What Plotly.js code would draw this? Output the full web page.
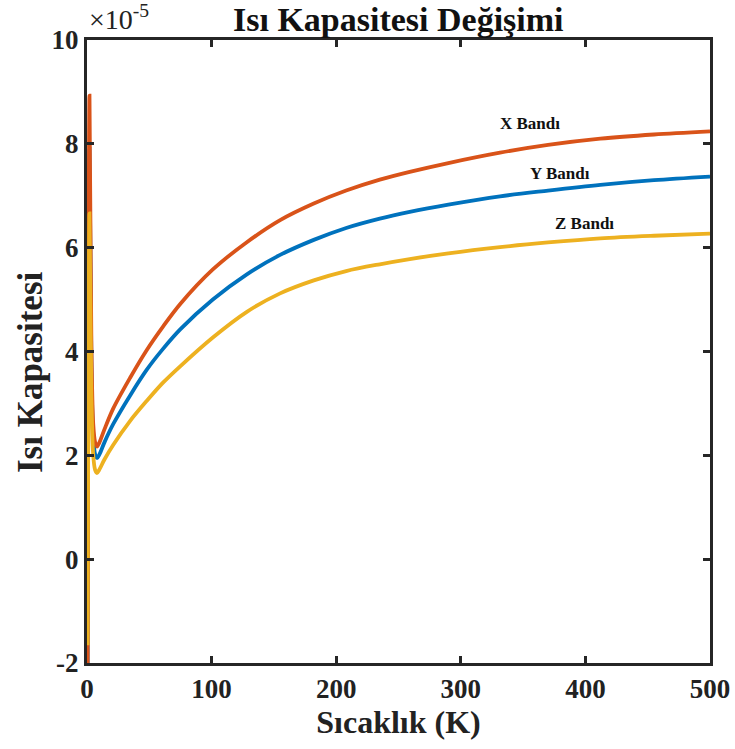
<!DOCTYPE html>
<html>
<head>
<meta charset="utf-8">
<script src="https://cdn.plot.ly/plotly-3.0.1.min.js"></script>
<style>html,body{margin:0;padding:0;background:#fff;}#chart{width:735px;height:749px;}</style>
</head>
<body>
<div id="chart"></div>
<script>
// Temperature (K)
var temperature = [0.5, 2, 3.5, 5, 6.5, 8, 10, 14, 21, 34.5, 48, 61, 75, 101, 128, 155, 182, 208, 235, 259, 290, 331.5, 370, 412, 455, 500];
// Heat capacity (x1e-5)
var xBand = [-2.6, 8.93, 4.2, 2.6, 2.25, 2.17, 2.25, 2.50, 2.90, 3.49, 4.03, 4.48, 4.92, 5.58, 6.10, 6.53, 6.85, 7.10, 7.31, 7.46, 7.63, 7.83, 7.98, 8.10, 8.18, 8.24];
var yBand = [-2.2, 7.9, 3.8, 2.35, 2.02, 1.95, 2.02, 2.25, 2.60, 3.15, 3.65, 4.05, 4.43, 5.00, 5.48, 5.86, 6.15, 6.38, 6.56, 6.69, 6.83, 6.99, 7.10, 7.21, 7.30, 7.37];
var zBand = [-1.66, 6.66, 3.2, 2.0, 1.72, 1.66, 1.73, 1.92, 2.20, 2.66, 3.05, 3.40, 3.72, 4.27, 4.76, 5.12, 5.37, 5.55, 5.68, 5.78, 5.89, 6.01, 6.10, 6.18, 6.23, 6.27];
var seriesNames = ["X Bandı", "Y Bandı", "Z Bandı"];
var labelT = [355.5, 379.5, 399.5];
var labelV = [8.39, 7.43, 6.47];
var xTicks = [0, 100, 200, 300, 400, 500];
var yTicks = [-2, 0, 2, 4, 6, 8, 10];

var colors = {x: "#D95319", y: "#0072BD", z: "#EDB120"};
var serif = "Liberation Serif, Times New Roman, serif";
var axisColor = "#262626";

var lineStyle = function (c) { return {color: c, width: 3.8, shape: "spline", smoothing: 0.9}; };
var traces = [
  {x: temperature, y: yBand, name: seriesNames[1], mode: "lines", line: lineStyle(colors.y)},
  {x: temperature, y: xBand, name: seriesNames[0], mode: "lines", line: lineStyle(colors.x)},
  {x: temperature, y: zBand, name: seriesNames[2], mode: "lines", line: lineStyle(colors.z)}
];

var annotations = seriesNames.map(function (n, i) {
  return {x: labelT[i], y: labelV[i], xref: "x", yref: "y", text: "<b>" + n + "</b>", showarrow: false,
    font: {family: serif, size: 17, color: "#111"}};
});
annotations.push({x: 0, y: 1, xref: "paper", yref: "paper", xanchor: "left", yanchor: "bottom", yshift: 3, xshift: 0,
  text: "×10<sup>-5</sup>", showarrow: false, font: {family: serif, size: 28, color: "#222"}});
// chart title
annotations.push({x: 0.5, y: 1.0329, xref: "paper", yref: "paper", xanchor: "center", yanchor: "middle",
  text: "<b>Isı Kapasitesi Değişimi</b>", showarrow: false, font: {family: serif, size: 34, color: "#111"}});
// y axis title
annotations.push({x: -0.0915, y: 0.467, xref: "paper", yref: "paper", xanchor: "center", yanchor: "middle",
  textangle: -90, text: "<b>Isı Kapasitesi</b>", showarrow: false, font: {family: serif, size: 35, color: "#222"}});

var layout = {
  width: 735, height: 749,
  margin: {l: 87, r: 25, t: 40, b: 86},
  paper_bgcolor: "#fff", plot_bgcolor: "#fff",
  showlegend: false,
  xaxis: {
    range: [0, 500], tickvals: xTicks, ticktext: xTicks.map(function (v) { return "<b>" + v + "</b>"; }),
    ticks: "inside", ticklen: 7, tickwidth: 3, tickcolor: axisColor,
    showline: true, linewidth: 3, linecolor: axisColor, mirror: "ticks",
    showgrid: false, zeroline: false,
    tickfont: {family: serif, size: 27, color: "#222"},
    title: {text: "<b>Sıcaklık (K)</b>", font: {family: serif, size: 32, color: "#222"}, standoff: 6}
  },
  yaxis: {
    range: [-2, 10], tickvals: yTicks, ticktext: yTicks.map(function (v) { return "<b>" + v + "</b>"; }),
    ticks: "inside", ticklen: 7, tickwidth: 3, tickcolor: axisColor,
    showline: true, linewidth: 3, linecolor: axisColor, mirror: "ticks",
    showgrid: false, zeroline: false,
    tickfont: {family: serif, size: 27, color: "#222"}
  },
  annotations: annotations
};

Plotly.newPlot("chart", traces, layout, {displayModeBar: false, staticPlot: true});
</script>
</body>
</html>
